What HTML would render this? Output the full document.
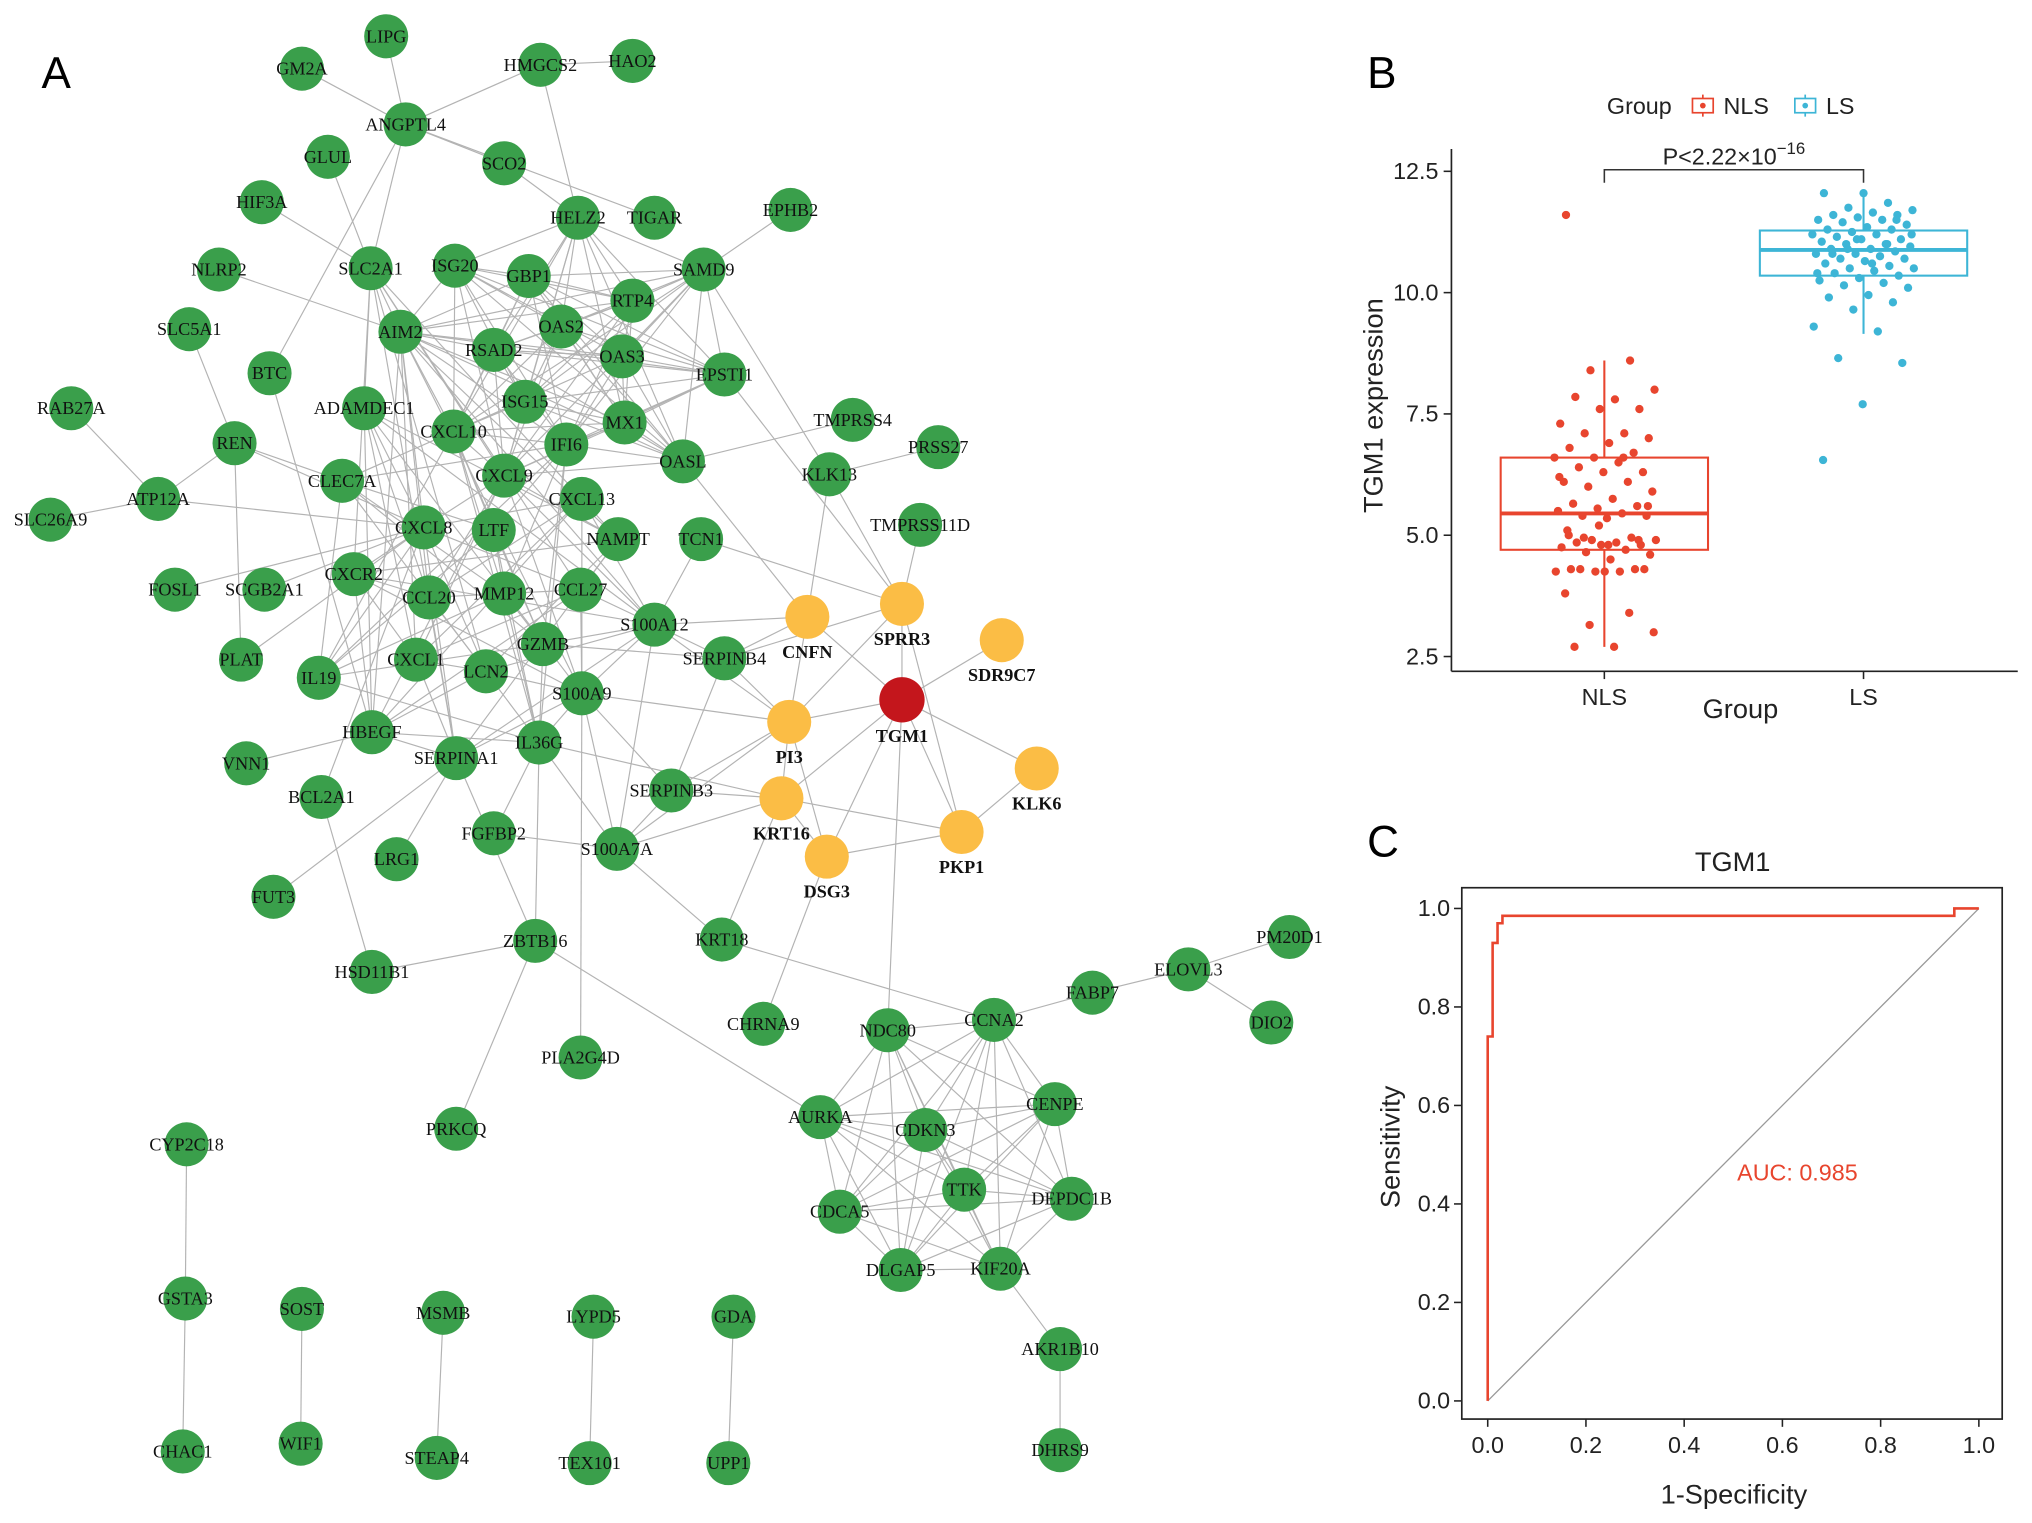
<!DOCTYPE html>
<html><head><meta charset="utf-8"><style>
html,body{margin:0;padding:0;background:#fff;}
svg{display:block;}
.nl{font-family:"Liberation Serif",serif;font-size:14px;fill:#111;text-anchor:middle;dominant-baseline:central;}
.sans{font-family:"Liberation Sans",sans-serif;}
</style></head><body>
<svg id="fig" width="2032" height="1523" viewBox="0 0 1568 1175.2" preserveAspectRatio="none" xmlns="http://www.w3.org/2000/svg">
<g id="net"></g>
<g id="box"></g>
<g id="roc"></g>
<text x="32" y="68" class="sans" font-size="34">A</text>
<text x="1055" y="68" class="sans" font-size="34">B</text>
<text x="1055" y="661" class="sans" font-size="34">C</text>
</svg>
<script>
const NS="http://www.w3.org/2000/svg";
const nodeNames=["LIPG","GM2A","HMGCS2","HAO2","ANGPTL4","GLUL","SCO2","HIF3A","HELZ2","TIGAR","EPHB2","NLRP2","SLC2A1","ISG20","GBP1","SAMD9","RTP4","SLC5A1","AIM2","OAS2","RSAD2","OAS3","EPSTI1","BTC","RAB27A","ADAMDEC1","ISG15","MX1","TMPRSS4","PRSS27","CXCL10","REN","IFI6","OASL","KLK13","CLEC7A","CXCL9","ATP12A","SLC26A9","CXCL13","TMPRSS11D","CXCL8","LTF","NAMPT","TCN1","FOSL1","SCGB2A1","CXCR2","CCL20","MMP12","CCL27","CNFN","SPRR3","SDR9C7","S100A12","PLAT","CXCL1","GZMB","SERPINB4","IL19","LCN2","S100A9","TGM1","PI3","HBEGF","IL36G","SERPINA1","VNN1","KLK6","BCL2A1","SERPINB3","KRT16","PKP1","FGFBP2","S100A7A","LRG1","DSG3","FUT3","KRT18","ZBTB16","HSD11B1","PM20D1","ELOVL3","FABP7","CCNA2","NDC80","CHRNA9","DIO2","PLA2G4D","CENPE","AURKA","CDKN3","PRKCQ","CYP2C18","TTK","DEPDC1B","CDCA5","DLGAP5","KIF20A","GSTA3","SOST","MSMB","LYPD5","GDA","AKR1B10","CHAC1","WIF1","STEAP4","TEX101","UPP1","DHRS9"];
const nodeX=[298,233,417,488,313,253,389,202,446,505,610,169,286,351,408,543,488,146,309,433,381,480,559,208,55,281,405,482,658,724,350,181,437,527,640,264,389,122,39,449,710,327,381,477,541,135,204,273,331,389,448,623,696,773,505,186,321,419,559,246,375,449,696,609,287,416,352,190,800,248,518,603,742,381,476,306,638,211,557,413,287,995,917,843,767,685,589,981,448,814,633,714,352,144,744,827,648,695,772,143,233,342,458,566,818,141,232,337,455,562,818];
const nodeY=[28,53,50,47,96,121,126,156,168,168,162,208,207,205,213,208,232,254,256,252,270,275,289,288,315,315,310,326,324,345,333,342,343,356,366,371,367,385,401,385,405,407,409,416,416,455,455,443,461,458,455,476,466,494,482,509,509,497,508,523,518,535,540,557,565,573,585,589,593,615,610,616,642,643,655,663,661,692,725,726,750,723,748,766,787,795,790,789,816,852,862,872,871,883,918,925,935,980,979,1002,1010,1013,1016,1016,1041,1120,1114,1125,1129,1129,1119];
const yellowNodes=["CNFN","SPRR3","SDR9C7","PI3","KRT16","PKP1","DSG3","KLK6"];
const ifnGroup=["ISG20","GBP1","RTP4","OAS2","RSAD2","OAS3","EPSTI1","ISG15","MX1","IFI6","OASL","HELZ2","SAMD9","AIM2","CXCL10","CXCL9"];
const infGroup=["CXCL10","CXCL9","CXCL8","LTF","CXCR2","CCL20","MMP12","CCL27","CXCL1","GZMB","LCN2","S100A9","IL36G","SERPINA1","HBEGF","CLEC7A","CXCL13","S100A12","IL19","ADAMDEC1","NAMPT","IFI6","AIM2","SLC2A1"];
const cellCycle=["NDC80","CCNA2","AURKA","CDKN3","CENPE","TTK","DEPDC1B","CDCA5","DLGAP5","KIF20A"];
const extraEdges="LIPG-ANGPTL4 GM2A-ANGPTL4 HMGCS2-HAO2 HMGCS2-ANGPTL4 GLUL-SLC2A1 ANGPTL4-SLC2A1 ANGPTL4-SCO2 ANGPTL4-TIGAR SCO2-HELZ2 HMGCS2-HELZ2 EPHB2-SAMD9 NLRP2-AIM2 SLC5A1-REN RAB27A-ATP12A SLC26A9-ATP12A ATP12A-REN ATP12A-CXCL8 REN-CLEC7A REN-PLAT BTC-HBEGF BTC-ANGPTL4 FOSL1-CXCL8 SCGB2A1-CXCL8 PLAT-CXCL8 VNN1-HBEGF BCL2A1-CXCL8 BCL2A1-HSD11B1 FUT3-SERPINA1 LRG1-SERPINA1 FGFBP2-IL36G ZBTB16-HSD11B1 ZBTB16-IL36G ZBTB16-SERPINA1 ZBTB16-PRKCQ ZBTB16-AURKA PLA2G4D-S100A9 KRT18-S100A7A KRT18-KRT16 KRT18-CCNA2 CHRNA9-DSG3 NDC80-TGM1 FABP7-CCNA2 FABP7-ELOVL3 ELOVL3-PM20D1 ELOVL3-DIO2 AKR1B10-KIF20A AKR1B10-DHRS9 CYP2C18-GSTA3 GSTA3-CHAC1 SOST-WIF1 MSMB-STEAP4 LYPD5-TEX101 GDA-UPP1 TMPRSS4-OASL PRSS27-KLK13 KLK13-CNFN KLK13-SPRR3 TMPRSS11D-SPRR3 TCN1-S100A12 TCN1-SPRR3 SERPINB4-SERPINB3 SERPINB4-PI3 SERPINB4-CNFN SERPINB4-SPRR3 SERPINB4-S100A12 SERPINB3-PI3 SERPINB3-KRT16 SERPINB3-S100A7A SERPINB3-S100A9 TGM1-SPRR3 TGM1-CNFN TGM1-PI3 TGM1-KRT16 TGM1-PKP1 TGM1-DSG3 TGM1-KLK6 TGM1-SDR9C7 PI3-KRT16 PI3-DSG3 PI3-CNFN PI3-SPRR3 PI3-S100A12 PI3-S100A7A KRT16-PKP1 KRT16-DSG3 KRT16-S100A7A PKP1-DSG3 PKP1-KLK6 PKP1-SPRR3 S100A7A-S100A9 S100A7A-IL36G S100A7A-S100A12 S100A7A-FGFBP2 S100A12-S100A9 S100A12-CNFN OASL-CNFN EPSTI1-SPRR3 SAMD9-KLK13 GZMB-S100A12 GZMB-SERPINB4 LCN2-S100A9 IL36G-S100A9 IL36G-HBEGF IL19-CXCL8 IL19-IL36G SLC2A1-HIF3A CXCL8-REN KRT16-IL36G S100A9-PI3";
const panelBNLS=[11.6,8.6,8.4,8.0,7.8,7.85,7.6,7.6,7.3,7.1,7.1,7.0,6.9,6.8,6.7,6.6,6.6,6.5,6.4,6.3,6.3,6.1,6.1,6.0,5.9,5.75,5.65,5.6,5.55,5.5,5.45,5.4,5.4,5.35,5.1,4.95,4.9,4.9,4.85,4.85,4.8,4.8,4.75,4.7,4.65,4.6,4.5,4.3,4.3,4.25,4.25,4.25,4.3,4.3,4.25,3.8,3.4,3.15,3.0,2.7,2.7,4.9,5.2,6.2,6.6,4.95,5.6,4.8,5.0];
const panelBLS=[12.05,12.05,11.85,11.75,11.7,11.65,11.6,11.6,11.55,11.5,11.5,11.45,11.4,11.35,11.3,11.3,11.25,11.2,11.2,11.15,11.1,11.1,11.05,11.0,11.0,10.95,10.9,10.9,10.85,10.8,10.8,10.75,10.7,10.7,10.65,10.6,10.55,10.5,10.5,10.45,10.4,10.35,10.3,10.25,10.2,10.15,10.1,9.95,9.9,9.8,9.65,9.3,9.2,8.65,8.55,7.7,6.55,11.0,10.9,11.2,10.6,10.8,11.5,11.1,10.4];
const groupLabels=["NLS","LS"];
const boxQ1=[4.7,10.35];
const boxMed=[5.45,10.88];
const boxQ3=[6.6,11.28];
const whiskLo=[2.7,9.15];
const whiskHi=[8.6,12.05];
const yTicksB=[2.5,5.0,7.5,10.0,12.5];
const rocFPR=[0,0,0.01,0.01,0.02,0.02,0.03,0.03,0.95,0.95,1.0];
const rocTPR=[0,0.74,0.74,0.93,0.93,0.97,0.97,0.985,0.985,1.0,1.0];
const rocTicks=[0.0,0.2,0.4,0.6,0.8,1.0];
const aucValue=0.985;

function el(tag,attrs,parent,text){const e=document.createElementNS(NS,tag);for(const k in attrs)e.setAttribute(k,attrs[k]);if(text!==undefined)e.textContent=text;parent.appendChild(e);return e;}

const net=document.getElementById('net');
const idx={};nodeNames.forEach((n,i)=>idx[n]=i);
const edges=[];const seen=new Set();
function addE(a,b){if(!(a in idx)||!(b in idx)||a===b)return;const k=[a,b].sort().join('|');if(seen.has(k))return;seen.add(k);edges.push([a,b]);}
for(let i=0;i<ifnGroup.length;i++)for(let j=i+1;j<ifnGroup.length;j++)if((i*7+j*3)%4!==0)addE(ifnGroup[i],ifnGroup[j]);
for(let i=0;i<infGroup.length;i++)for(let j=i+1;j<infGroup.length;j++)if((i*5+j*11)%3===0)addE(infGroup[i],infGroup[j]);
for(let i=0;i<cellCycle.length;i++)for(let j=i+1;j<cellCycle.length;j++)addE(cellCycle[i],cellCycle[j]);
extraEdges.split(' ').forEach(s=>{const p=s.split('-');addE(p[0],p[1]);});
const eg=el('g',{},net);


edges.forEach(([a,b])=>{
 const l=el('line',{x1:nodeX[idx[a]],y1:nodeY[idx[a]],x2:nodeX[idx[b]],y2:nodeY[idx[b]],stroke:'#b3b3b3','stroke-width':0.9},eg);
 
 
});
nodeNames.forEach((n,i)=>{
 const g=el('g',{},net);
 
 
 const isY=yellowNodes.includes(n), isR=n==='TGM1';
 el('circle',{cx:nodeX[i],cy:nodeY[i],r:isR?17.5:17,fill:isR?'#c4161c':(isY?'#fbbd45':'#3a9f4b')},g);
 if(isR) el('text',{x:nodeX[i],y:nodeY[i]+28,class:'nl','font-weight':'bold','font-size':'19'},g,n);
 else if(isY) el('text',{x:nodeX[i],y:nodeY[i]+27,class:'nl','font-weight':'bold'},g,n);
 else el('text',{x:nodeX[i],y:nodeY[i],class:'nl'},g,n);
});

const box=document.getElementById('box');
const yB=v=>413-(v-5)*37.44;
const xB=[1238,1438];
const colB=['#e8452e','#3db5d6'];
el('line',{x1:1120,y1:115,x2:1120,y2:518,stroke:'#222','stroke-width':1.3},box);
el('line',{x1:1120,y1:518,x2:1557,y2:518,stroke:'#222','stroke-width':1.3},box);
yTicksB.forEach(t=>{
 el('line',{x1:1114,y1:yB(t),x2:1120,y2:yB(t),stroke:'#222','stroke-width':1.2},box);
 const tx=el('text',{x:1110,y:yB(t)+6,class:'sans','font-size':18,'text-anchor':'end',fill:'#222'},box,t.toFixed(1));
 
 
});
groupLabels.forEach((g,i)=>{
 el('line',{x1:xB[i],y1:518,x2:xB[i],y2:524,stroke:'#222','stroke-width':1.2},box);
 const t=el('text',{x:xB[i],y:544,class:'sans','font-size':18,'text-anchor':'middle',fill:'#222'},box,g);
 
 
 const c=colB[i];
 el('line',{x1:xB[i],y1:yB(whiskLo[i]),x2:xB[i],y2:yB(whiskHi[i]),stroke:c,'stroke-width':1.6},box);
 const r=el('rect',{x:xB[i]-80,y:yB(boxQ3[i]),width:160,height:yB(boxQ1[i])-yB(boxQ3[i]),fill:'#fff',stroke:c,'stroke-width':1.6},box);
 
 
 el('line',{x1:xB[i]-80,y1:yB(boxMed[i]),x2:xB[i]+80,y2:yB(boxMed[i]),stroke:c,'stroke-width':3},box);
 const vals=i===0?panelBNLS:panelBLS;
 vals.forEach((v,k)=>{
  const fr=((k*0.6180339887+0.37*i+0.13)%1);
  const j=(fr-0.5)*80;
  const p=el('circle',{cx:xB[i]+j,cy:yB(v),r:3.2,fill:c},box);
  
  
 });
});
el('path',{d:`M${xB[0]} 141 V131 H${xB[1]} V141`,fill:'none',stroke:'#333','stroke-width':1.2},box);
const pt=el('text',{x:1338,y:127,class:'sans','font-size':18,'text-anchor':'middle',fill:'#222'},box);
pt.innerHTML='P&lt;2.22×10<tspan dy="-8" font-size="13">−16</tspan>';


const yt=el('text',{x:0,y:0,class:'sans','font-size':21,'text-anchor':'middle',fill:'#222',transform:'translate(1067,313) rotate(-90)'},box,'TGM1 expression');


const xt=el('text',{x:1343,y:554,class:'sans','font-size':21,'text-anchor':'middle',fill:'#222'},box,'Group');


const lg=el('g',{},box);


el('text',{x:1240,y:88,class:'sans','font-size':18,fill:'#222'},lg,'Group');
[[1305,'NLS',0],[1384,'LS',1]].forEach(([x,n,i])=>{
 const e=el('g',{},lg);
 
 
 el('line',{x1:x+9,y1:73,x2:x+9,y2:90,stroke:colB[i],'stroke-width':1.3},e);
 el('rect',{x:x+1,y:76,width:16,height:11,fill:'#fff',stroke:colB[i],'stroke-width':1.3},e);
 el('circle',{cx:x+9,cy:81.5,r:2.2,fill:colB[i]},e);
 el('text',{x:x+25,y:88,class:'sans','font-size':18,fill:'#222'},e,n);
});

const roc=document.getElementById('roc');
const xR=v=>1148+v*379, yR=v=>1081-v*380;
el('rect',{x:1128,y:685,width:417,height:410,fill:'none',stroke:'#222','stroke-width':1.3},roc);
el('line',{x1:xR(0),y1:yR(0),x2:xR(1),y2:yR(1),stroke:'#999','stroke-width':1},roc);
rocTicks.forEach(t=>{
 el('line',{x1:xR(t),y1:1095,x2:xR(t),y2:1101,stroke:'#222','stroke-width':1.2},roc);
 const a=el('text',{x:xR(t),y:1121,class:'sans','font-size':18,'text-anchor':'middle',fill:'#222'},roc,t.toFixed(1));
 
 
 el('line',{x1:1122,y1:yR(t),x2:1128,y2:yR(t),stroke:'#222','stroke-width':1.2},roc);
 const b=el('text',{x:1119,y:yR(t)+6,class:'sans','font-size':18,'text-anchor':'end',fill:'#222'},roc,t.toFixed(1));
 
 
});
const rp=el('polyline',{points:rocFPR.map((f,i)=>xR(f)+','+yR(rocTPR[i])).join(' '),fill:'none',stroke:'#e8452e','stroke-width':2},roc);


const at=el('text',{x:1387,y:911,class:'sans','font-size':18,'text-anchor':'middle',fill:'#e8452e'},roc,'AUC: '+aucValue.toFixed(3));


const tt=el('text',{x:1337,y:672,class:'sans','font-size':21,'text-anchor':'middle',fill:'#222'},roc,'TGM1');


const sy=el('text',{x:0,y:0,class:'sans','font-size':21,'text-anchor':'middle',fill:'#222',transform:'translate(1080,885) rotate(-90)'},roc,'Sensitivity');


const sx=el('text',{x:1338,y:1160,class:'sans','font-size':21,'text-anchor':'middle',fill:'#222'},roc,'1-Specificity');


</script>
</body></html>
